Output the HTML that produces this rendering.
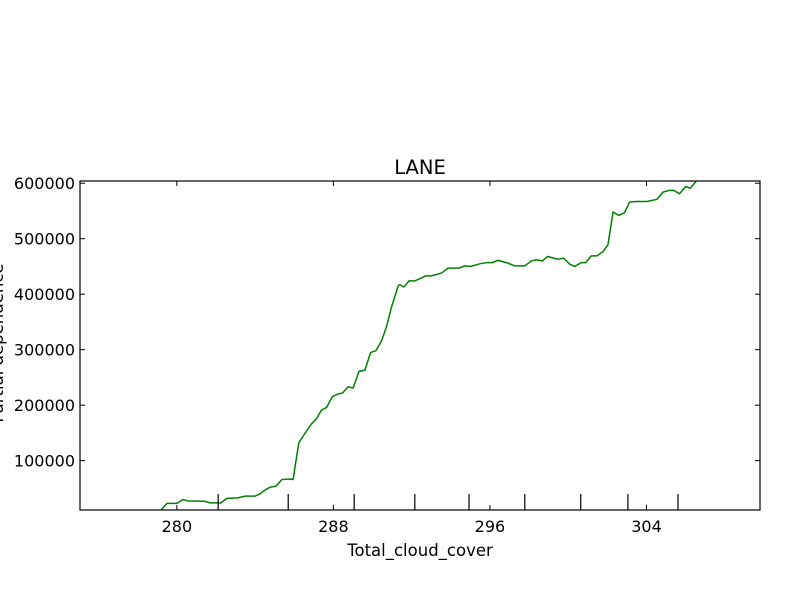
<!DOCTYPE html>
<html><head><meta charset="utf-8"><style>
html,body{margin:0;padding:0;background:#fff;}
svg text{font-family:"DejaVu Sans","Liberation Sans",sans-serif;font-size:16px;fill:#000;}
</style></head><body>
<svg id="chart" width="800" height="600" xmlns="http://www.w3.org/2000/svg">
<rect width="800" height="600" fill="#fff"/>
</svg>
<script>
const xValues=[279.03,279.19,279.49,280.0,280.31,280.62,281.38,281.69,282.25,282.56,283.12,283.48,283.99,284.24,284.5,284.75,285.06,285.37,285.77,285.94,286.23,286.54,286.85,287.14,287.39,287.65,287.94,288.21,288.47,288.75,289.01,289.31,289.61,289.9,290.17,290.46,290.71,290.97,291.31,291.39,291.6,291.87,292.16,292.72,293.01,293.52,293.86,294.42,294.71,295.0,295.51,295.85,296.13,296.41,296.92,297.27,297.78,298.12,298.37,298.68,298.94,299.48,299.77,300.08,300.33,300.67,300.89,301.18,301.47,301.78,302.03,302.29,302.59,302.88,303.14,303.48,304.02,304.53,304.84,305.15,305.4,305.69,306.0,306.24,306.55,306.72,307.5];
const yValues=[2000,11000,23000,23000,30000,27000,27000,24000,24000,32000,33000,36000,36000,40000,47000,52000,54000,66000,67000,66000,132000,149000,165000,176000,191000,196000,215000,220000,222000,233000,231000,261000,263000,295000,298000,316000,341000,377000,415000,417000,413000,424000,424000,433000,433000,438000,447000,447000,451000,450000,455000,457000,457000,461000,456000,451000,451000,460000,462000,460000,468000,463000,465000,454000,450000,457000,457000,469000,469000,477000,489000,548000,542000,547000,566000,567000,567000,571000,584000,587000,587000,581000,594000,591000,604000,609000,620000];
const xTicks=[280,288,296,304];
const yTicks=[100000,200000,300000,400000,500000,600000];
const deciles=[282.11,285.69,289.06,292.16,294.93,297.78,300.64,303.05,305.61];

const L=80,R=760,T=181,B=510;
const xMin=275.05,xMax=309.8,yMin=11100,yMax=604000;
const sx=v=>L+(v-xMin)/(xMax-xMin)*(R-L);
const sy=v=>B-(v-yMin)/(yMax-yMin)*(B-T);
const svg=document.getElementById('chart');
const NS='http://www.w3.org/2000/svg';
function mk(tag,attrs){const e=document.createElementNS(NS,tag);for(const k in attrs)e.setAttribute(k,attrs[k]);svg.appendChild(e);return e;}

const defs=mk('defs',{});
const cp=document.createElementNS(NS,'clipPath');cp.setAttribute('id','plotclip');
const cr=document.createElementNS(NS,'rect');cr.setAttribute('x',L);cr.setAttribute('y',T);cr.setAttribute('width',R-L);cr.setAttribute('height',B-T);
cp.appendChild(cr);defs.appendChild(cp);

const pts=xValues.map((x,i)=>sx(x).toFixed(2)+','+sy(yValues[i]).toFixed(2)).join(' ');
const line=mk('polyline',{points:pts,fill:'none',stroke:'#008000','stroke-width':1.5,'clip-path':'url(#plotclip)'});



deciles.forEach(d=>{
  const r=mk('line',{x1:sx(d),x2:sx(d),y1:B,y2:B-16,stroke:'#000','stroke-width':1.2});
  
  
});

const fr=mk('rect',{x:L,y:T,width:R-L,height:B-T,fill:'none',stroke:'#000','stroke-width':1.2});



xTicks.forEach(t=>{
  const x=sx(t);
  mk('line',{x1:x,x2:x,y1:B,y2:B-5,stroke:'#000'});
  mk('line',{x1:x,x2:x,y1:T,y2:T+5,stroke:'#000'});
  const tx=mk('text',{x:x,y:B+22,'text-anchor':'middle'});tx.textContent=t;
  
  
});
yTicks.forEach(t=>{
  const y=sy(t);
  mk('line',{x1:L,x2:L+5,y1:y,y2:y,stroke:'#000'});
  mk('line',{x1:R,x2:R-5,y1:y,y2:y,stroke:'#000'});
  const tx=mk('text',{x:L-5,y:y+6,'text-anchor':'end'});tx.textContent=t;
  
  
});

const title=mk('text',{x:420,y:174,'text-anchor':'middle','font-size':'19.5px',style:'font-size:19.5px'});title.textContent='LANE';


const xl=mk('text',{x:420,y:556,'text-anchor':'middle',style:'font-size:16.5px'});xl.textContent='Total_cloud_cover';


const yl=mk('text',{x:3,y:343,'text-anchor':'middle',transform:'rotate(-90 3 343)',style:'font-size:16.5px'});yl.textContent='Partial dependence';


</script>
</body></html>
